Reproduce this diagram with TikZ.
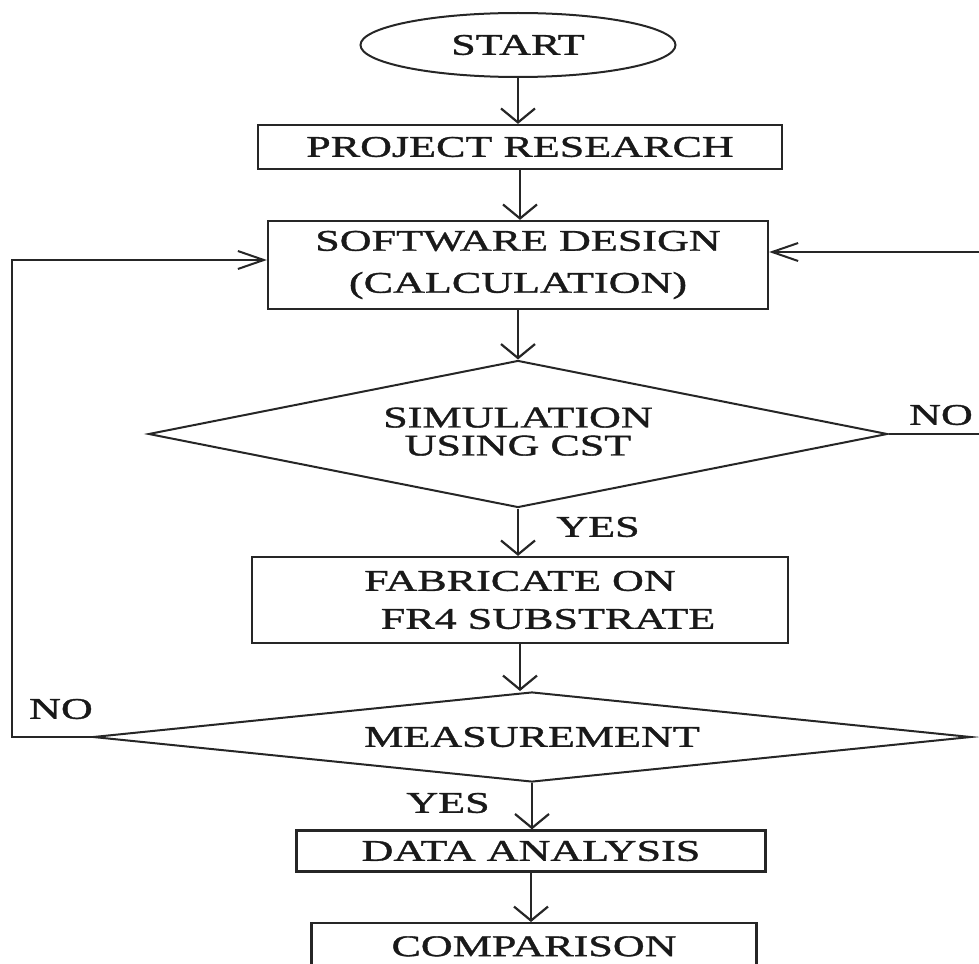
\documentclass[tikz,border=0pt]{standalone}
\usepackage{fontspec}
\setmainfont[FakeStretch=1.47,FakeBold=1.2]{Liberation Serif}
\usetikzlibrary{shapes.geometric,arrows.meta,calc}
\begin{document}
\begin{tikzpicture}[x=1pt,y=-1pt,
  every node/.style={font=\fontsize{30}{36}\selectfont, text=black!90},
  box/.style={draw=black!85, line width=2.2pt, rectangle, inner sep=0pt, align=center},
  dec/.style={draw=black!85, line width=2pt, diamond, inner sep=0pt, align=center},
  vline/.style={draw=black!85, line width=2.2pt, -{Straight Barb[length=14pt,width=34pt]}},
  hline/.style={draw=black!85, line width=2pt, -{Straight Barb[length=26pt,width=18pt]}},
  lbl/.style={inner sep=0pt}]
\useasboundingbox (0,0) rectangle (979,963);

\node[draw=black!85, line width=2pt, ellipse, inner sep=0pt, minimum width=315pt, minimum height=64pt] (start) at (518,45) {START};
\node[box, minimum width=524pt, minimum height=44pt] (proj) at (520,147) {PROJECT RESEARCH};
\node[box, minimum width=500pt, minimum height=88pt, font=\fontsize{30}{42}\selectfont] (soft) at (518,265) {SOFTWARE DESIGN\\(CALCULATION)};
\node[dec, shape aspect=5, minimum width=739pt, minimum height=147pt, font=\fontsize{30}{28}\selectfont] (sim) at (518,434) {\raisebox{5pt}{SIMULATION}\\\raisebox{5pt}{USING CST}};
\node[box, minimum width=536pt, minimum height=86pt, font=\fontsize{30}{38}\selectfont] (fab) at (520,600) {FABRICATE ON\\\hspace*{56pt}FR4 SUBSTRATE};
\node[dec, shape aspect=9.7, minimum width=878pt, minimum height=90pt] (meas) at (532,737) {MEASUREMENT};
\node[box, minimum width=469pt, minimum height=41pt] (data) at (531,851) {DATA ANALYSIS};
\node[box, anchor=north, minimum width=445pt, text height=33pt, text depth=47pt] (comp) at (534,922) {COMPARISON};

\node[lbl] (yes1) at (598,527) {YES};
\node[lbl] (yes2) at (448,803) {YES};
\node[lbl] (no1) at (941,415) {NO};
\node[lbl] (no2) at (61,709) {NO};

\draw[vline] (start.south) -- (start.south |- proj.north);
\draw[vline] (proj.south) -- (proj.south |- soft.north);
\draw[vline] (soft.south) -- (soft.south |- sim.north);
\draw[vline] (sim.south) -- (sim.south |- fab.north);
\draw[vline] (fab.south) -- (fab.south |- meas.north);
\draw[vline] (meas.south) -- (meas.south |- data.north);
\draw[vline] (data.south) -- (data.south |- comp.north);

\coordinate (lp) at (12,260);
\coordinate (rp) at (981,252);
\draw[hline] (meas.west) -| (lp) -- (soft.west |- lp);
\draw[hline] (sim.east) -| (rp) -- (soft.east |- rp);
\end{tikzpicture}
\end{document}
